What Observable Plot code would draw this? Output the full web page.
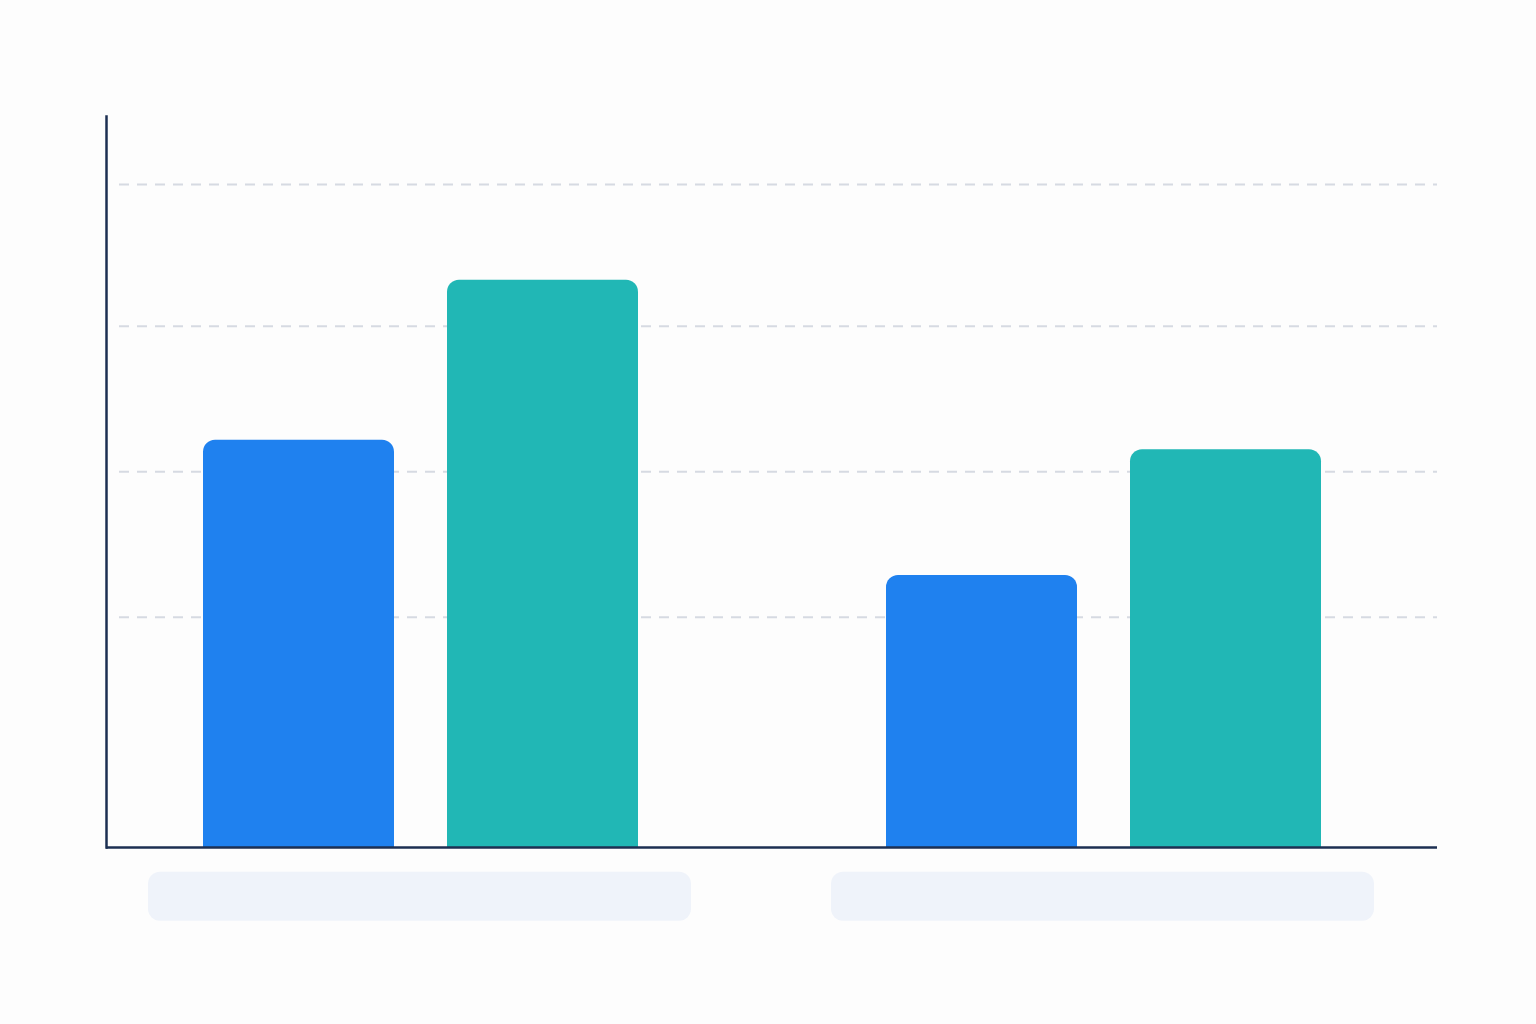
<!DOCTYPE html>
<html>
<head>
<meta charset="utf-8">
<script src="https://cdn.jsdelivr.net/npm/d3@7"></script>
<script src="https://cdn.jsdelivr.net/npm/@observablehq/plot@0.6"></script>
<style>
  html, body { margin: 0; padding: 0; background: #fdfdfd; }
  #chart { width: 1536px; height: 1024px; }
  svg { display: block; }
</style>
</head>
<body>
<div id="chart"></div>
<script>
// Data
const groups = ["A", "B"];
const seriesA = [55.7, 37.2];   // blue series, per group
const seriesB = [77.6, 54.4];   // teal series, per group
const gridValues = [31.5, 51.4, 71.3, 90.7];
const yMax = 100;
const labelBox = [-3.4, -10.1]; // placeholder label band below the axis

const blueData = groups.map((g, i) => ({group: g, value: seriesA[i]}));
const tealData = groups.map((g, i) => ({group: g, value: seriesB[i]}));
const labelData = groups.map(g => ({group: g, y1: labelBox[0], y2: labelBox[1]}));

const chart = Plot.plot({
  width: 1536,
  height: 1024,
  marginLeft: 106,
  marginRight: 99,
  marginTop: 116,
  marginBottom: 177,
  style: {background: "transparent"},
  x: {domain: groups, paddingInner: 140 / 684, paddingOuter: 52 / 684, align: 0.404, axis: null},
  y: {domain: [0, yMax], axis: null},
  marks: [
    Plot.ruleY(gridValues, {stroke: "#d6dae2", strokeWidth: 2, strokeDasharray: "10 8", insetLeft: 13}),
    Plot.barY(labelData, {x: "group", y1: "y1", y2: "y2", fill: "#eff3fa", r: 12, clip: false}),
    Plot.barY(blueData, {x: "group", y: "value", fill: "#1f81ef", insetLeft: 55, insetRight: 297, ry1: 12}),
    Plot.barY(tealData, {x: "group", y: "value", fill: "#21b7b5", insetLeft: 299, insetRight: 53, ry1: 12}),
    Plot.frame({anchor: "left", stroke: "#1c2f52", strokeWidth: 2.5}),
    Plot.ruleY([0], {stroke: "#1c2f52", strokeWidth: 2.5})
  ]
});
document.getElementById("chart").appendChild(chart);
</script>
</body>
</html>
